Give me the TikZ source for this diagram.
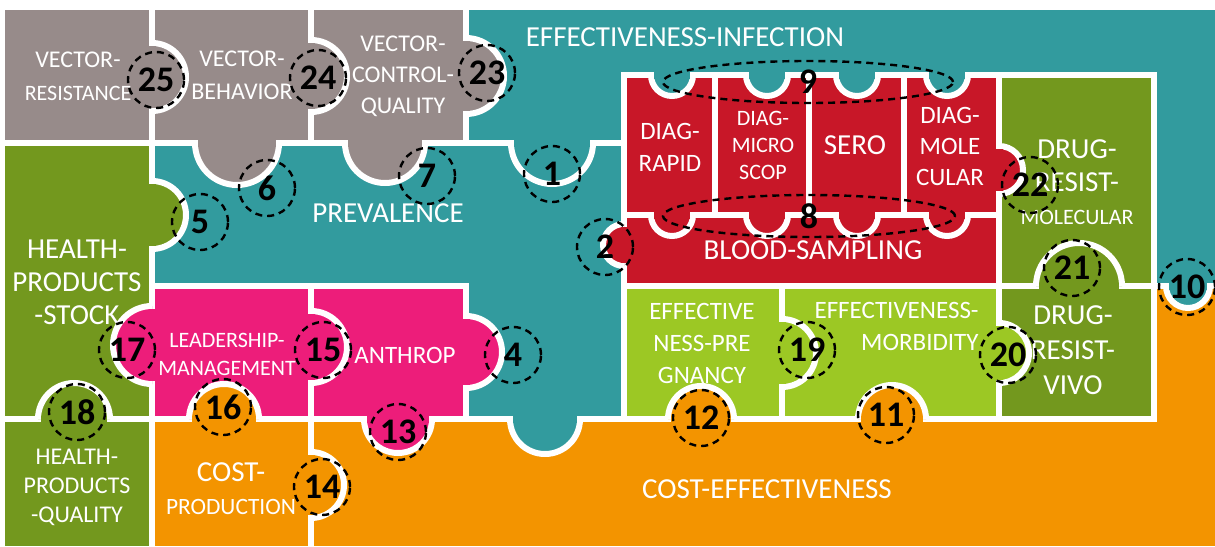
\documentclass[tikz,border=0pt]{standalone}
\usepackage{fontspec}
\setmainfont{Carlito}
\usetikzlibrary{shapes.geometric}
\definecolor{greypiece}{RGB}{151,139,138}
\definecolor{tealpiece}{RGB}{50,155,158}
\definecolor{olivepiece}{RGB}{115,152,30}
\definecolor{redpiece}{RGB}{200,23,40}
\definecolor{pinkpiece}{RGB}{237,29,122}
\definecolor{orangepiece}{RGB}{243,148,0}
\definecolor{limepiece}{RGB}{156,200,36}
\tikzset{
  piece/.style  = {draw=white, line width=3pt},
  lbl/.style    = {text=white, align=center, inner sep=0pt, font=\fontsize{14.5}{16.5}\selectfont},
  lbl mid/.style   = {lbl, font=\fontsize{12.5}{16}\selectfont},
  lbl small/.style = {lbl, font=\fontsize{11}{14}\selectfont},
  ring/.style   = {draw=black, line width=1.2pt, dash pattern=on 3.5pt off 2.5pt, inner sep=0pt,
                   font=\bfseries\fontsize{18}{18}\selectfont},
  num/.style    = {ring, circle, minimum size=28pt}
}
% one puzzle tab: colour, centre on the seam, radius, direction it points to
\newcommand{\puzzletab}[4]{%
  \fill[#1] (#2) ++({#4+90}:#3) arc[start angle=#4+90, end angle=#4-90, radius=#3] -- cycle;
  \draw[piece] (#2) ++({#4+90}:#3) arc[start angle=#4+90, end angle=#4-90, radius=#3];
  \fill[#1] (#2) ++({#4+90}:{#3-3}) ++(#4:3.5) -- ++({#4+180}:7) -- ++({#4-90}:{2*#3-6})
    -- ++(#4:7) -- cycle;}

\begin{document}
\begin{tikzpicture}[x=0.5pt,y=-0.5pt]
\useasboundingbox (0,0) rectangle (1215,546);
\fill[white] (0,0) rectangle (1215,546);

% pieces
\filldraw[piece, fill=greypiece] (2,7) rectangle (152,143);
\filldraw[piece, fill=greypiece] (152,7) rectangle (311,143);
\filldraw[piece, fill=greypiece] (311,7) rectangle (466,143);
\filldraw[piece, fill=tealpiece] (466,7) -- (1218,7) -- (1218,286) -- (1154,286) -- (1154,75)
  -- (624,75) -- (624,143) -- (466,143) -- cycle;
\filldraw[piece, fill=tealpiece] (152,143) -- (624,143) -- (624,419) -- (466,419) -- (466,286)
  -- (152,286) -- cycle;
\filldraw[piece, fill=olivepiece] (2,143) rectangle (152,419);
\filldraw[piece, fill=olivepiece] (2,419) rectangle (152,549);
\filldraw[piece, fill=pinkpiece] (152,286) rectangle (311,419);
\filldraw[piece, fill=pinkpiece] (311,286) rectangle (466,419);
\filldraw[piece, fill=orangepiece] (152,419) rectangle (311,549);
\filldraw[piece, fill=orangepiece] (311,419) -- (1154,419) -- (1154,286) -- (1218,286)
  -- (1218,549) -- (311,549) -- cycle;
\filldraw[piece, fill=redpiece] (624,75) rectangle (715,215);
\filldraw[piece, fill=redpiece] (715,75) rectangle (809,215);
\filldraw[piece, fill=redpiece] (809,75) rectangle (904,215);
\filldraw[piece, fill=redpiece] (904,75) rectangle (999,215);
\filldraw[piece, fill=redpiece] (624,215) rectangle (999,286);
\filldraw[piece, fill=olivepiece] (999,75) rectangle (1154,286);
\filldraw[piece, fill=limepiece] (624,286) rectangle (782,419);
\filldraw[piece, fill=limepiece] (782,286) rectangle (999,419);
\filldraw[piece, fill=olivepiece] (999,286) rectangle (1154,419);

% tabs
\puzzletab{greypiece}{152,77}{34}{0}
\puzzletab{greypiece}{311,76}{36}{0}
\puzzletab{greypiece}{466,76}{38}{0}
\puzzletab{greypiece}{237,143}{42}{90}
\puzzletab{greypiece}{385,143}{40}{90}
\puzzletab{tealpiece}{552,143}{41}{90}
\puzzletab{olivepiece}{152,215}{34}{0}
\puzzletab{redpiece}{624,245}{21}{180}
\foreach \tx in {672,767,857,947}{
  \puzzletab{tealpiece}{\tx,75}{21}{90}
  \puzzletab{redpiece}{\tx,215}{21}{90}
}
\puzzletab{redpiece}{999,170}{24}{0}
\puzzletab{olivepiece}{1079,286}{43}{270}
\puzzletab{tealpiece}{1188,286}{22}{90}
\puzzletab{pinkpiece}{152,345}{39}{180}
\puzzletab{pinkpiece}{311,347}{36}{0}
\puzzletab{pinkpiece}{466,352}{36}{0}
\puzzletab{orangepiece}{224,419}{35}{270}
\puzzletab{pinkpiece}{398,419}{34}{90}
\puzzletab{orangepiece}{311,485}{33}{0}
\puzzletab{olivepiece}{74,419}{36}{270}
\puzzletab{tealpiece}{545,419}{35}{90}
\puzzletab{orangepiece}{701,419}{33}{270}
\puzzletab{orangepiece}{892,419}{34}{270}
\puzzletab{limepiece}{782,353}{34}{0}
\puzzletab{limepiece}{999,353}{30}{0}

% labels
\node[lbl] (vres) at (78,76) {{\fontsize{12}{14}\selectfont VECTOR-}\\{\fontsize{11}{14}\selectfont RESISTANCE}};
\node[lbl] (vbeh) at (242,75) {{\fontsize{12}{14}\selectfont VECTOR-}\\{\fontsize{12}{14}\selectfont BEHAVIOR}};
\node[lbl, font=\fontsize{12}{15.5}\selectfont] (vcq) at (403,76) {VECTOR-\\CONTROL-\\QUALITY};
\node[lbl] (effinf) at (685,37) {EFFECTIVENESS-INFECTION};
\node[lbl] (prev) at (388,213) {PREVALENCE};
\node[lbl mid] (drapid) at (670,147) {DIAG-\\RAPID};
\node[lbl small, font=\fontsize{11}{13.5}\selectfont] (dmicro) at (763,145) {DIAG-\\MICRO\\SCOP};
\node[lbl] (sero) at (855,145) {SERO};
\node[lbl mid, font=\fontsize{12.5}{15.5}\selectfont] (dmol) at (950,146) {DIAG-\\MOLE\\CULAR};
\node[lbl] (blood) at (813,250) {BLOOD-SAMPLING};
\node[lbl] (drmol) at (1077,182) {DRUG-\\RESIST-\\{\fontsize{11}{14}\selectfont MOLECULAR}};
\node[lbl] (hps) at (77,282) {HEALTH-\\PRODUCTS\\-STOCK};
\node[lbl small] (lead) at (227,354) {LEADERSHIP-\\MANAGEMENT};
\node[lbl mid] (anth) at (405,355) {ANTHROP};
\node[lbl mid] (effpreg) at (702,343) {EFFECTIVE\\NESS-PRE\\GNANCY};
\node[lbl mid, align=right, anchor=east] (effmorb) at (979,326) {EFFECTIVENESS-\\MORBIDITY};
\node[lbl, font=\fontsize{14.5}{17.5}\selectfont] (drvivo) at (1073,350) {DRUG-\\RESIST-\\VIVO};
\node[lbl] (costeff) at (767,489) {COST-EFFECTIVENESS};
\node[lbl, font=\fontsize{12}{14.5}\selectfont] (hpq) at (77,487) {HEALTH-\\PRODUCTS\\-QUALITY};
\node[lbl] (costprod) at (231,489) {COST-\\{\fontsize{11.7}{14}\selectfont PRODUCTION}};

% dashed links
\node[ring, ellipse, minimum width=145pt, minimum height=21pt] (n9) at (808,82) {9};
\node[ring, ellipse, minimum width=146pt, minimum height=21pt] (n8) at (809,216) {8};
\node[num] (n25) at (156,80) {25};
\node[num] (n24) at (318,78) {24};
\node[num] (n23) at (487,73) {23};
\node[num] (n6) at (267,188) {6};
\node[num] (n7) at (427,176) {7};
\node[num] (n1) at (552,174) {1};
\node[num] (n5) at (200,222) {5};
\node[num] (n2) at (605,247) {2};
\node[num] (n22) at (1030,185) {22};
\node[num] (n21) at (1072,268) {21};
\node[num] (n10) at (1187,287) {10};
\node[num] (n17) at (127,350) {17};
\node[num] (n15) at (323,350) {15};
\node[num] (n4) at (513,355) {4};
\node[num] (n16) at (223,407) {16};
\node[num] (n13) at (398,432) {13};
\node[num] (n14) at (322,487) {14};
\node[num] (n18) at (77,412) {18};
\node[num] (n12) at (701,418) {12};
\node[num] (n11) at (886,415) {11};
\node[num] (n19) at (807,350) {19};
\node[num] (n20) at (1008,355) {20};
\end{tikzpicture}
\end{document}
